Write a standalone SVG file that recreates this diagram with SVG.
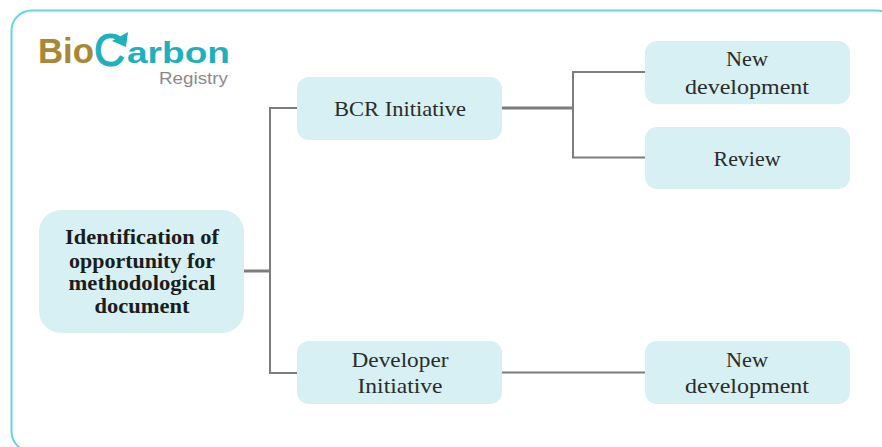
<svg xmlns="http://www.w3.org/2000/svg" width="882" height="447" viewBox="0 0 882 447">
<style>
.box{fill:#d6f0f3}
.t{font-family:"Liberation Serif",serif;font-size:22px;fill:#2b2b2b;text-anchor:middle}
.b{font-family:"Liberation Serif",serif;font-size:20px;font-weight:bold;fill:#1c1c1c;text-anchor:middle}
.c{fill:none;stroke:#7d7d7d;stroke-width:2}
.th{stroke-width:3}
.logo{font-family:"Liberation Sans",sans-serif;font-weight:bold}
</style>
<rect width="882" height="447" fill="#ffffff"/>
<rect id="frame" x="11.500" y="10.500" width="885" height="441" rx="20" fill="none" stroke="#66d5db" stroke-width="2"/>
<g id="logo">
<text class="logo" x="38" y="63" font-size="35" fill="#a98735" textLength="56" lengthAdjust="spacingAndGlyphs">Bio</text>
<text x="94" y="66" font-family="'Liberation Sans',sans-serif" font-size="46" fill="#1fb0c0" stroke="#1fb0c0" stroke-width="1.200" textLength="31" lengthAdjust="spacingAndGlyphs">C</text>
<polygon points="112,41 128,32 126,47" fill="#1fb0c0"/>
<text class="logo" x="127" y="63" font-size="29" fill="#1fb0c0" textLength="103" lengthAdjust="spacingAndGlyphs">arbon</text>
<text x="159" y="84" font-family="'Liberation Sans',sans-serif" font-size="16" fill="#8a8a8a" textLength="69" lengthAdjust="spacingAndGlyphs">Registry</text>
</g>
<g id="connectors">
<path class="c th" d="M244 271H270"/>
<path class="c" d="M297 108H270V373H297"/>
<path class="c th" d="M502 108H573"/>
<path class="c" d="M645 72H573V157.500H645"/>
<path class="c" d="M502 372.500H645"/>
</g>
<g id="root"><rect class="box" x="39" y="210" width="205" height="123" rx="22"/>
<text class="b" x="142" y="244" textLength="154" lengthAdjust="spacingAndGlyphs">Identification of</text>
<text class="b" x="142" y="268" textLength="146" lengthAdjust="spacingAndGlyphs">opportunity for</text>
<text class="b" x="142" y="290" textLength="147" lengthAdjust="spacingAndGlyphs">methodological</text>
<text class="b" x="142" y="313" textLength="95" lengthAdjust="spacingAndGlyphs">document</text></g>
<g id="bcr"><rect class="box" x="297" y="77" width="205" height="63" rx="12"/>
<text class="t" x="400" y="116" textLength="132" lengthAdjust="spacingAndGlyphs">BCR Initiative</text></g>
<g id="dev"><rect class="box" x="297" y="341" width="205" height="63" rx="12"/>
<text class="t" x="400" y="367" textLength="97" lengthAdjust="spacingAndGlyphs">Developer</text>
<text class="t" x="400" y="393" textLength="85" lengthAdjust="spacingAndGlyphs">Initiative</text></g>
<g id="new1"><rect class="box" x="645" y="41" width="205" height="63" rx="12"/>
<text class="t" x="747" y="66" textLength="42" lengthAdjust="spacingAndGlyphs">New</text>
<text class="t" x="747" y="94" textLength="124" lengthAdjust="spacingAndGlyphs">development</text></g>
<g id="review"><rect class="box" x="645" y="127" width="205" height="62" rx="12"/>
<text class="t" x="747" y="166" textLength="67" lengthAdjust="spacingAndGlyphs">Review</text></g>
<g id="new2"><rect class="box" x="645" y="341" width="205" height="63" rx="12"/>
<text class="t" x="747" y="367" textLength="42" lengthAdjust="spacingAndGlyphs">New</text>
<text class="t" x="747" y="393" textLength="124" lengthAdjust="spacingAndGlyphs">development</text></g>
</svg>
